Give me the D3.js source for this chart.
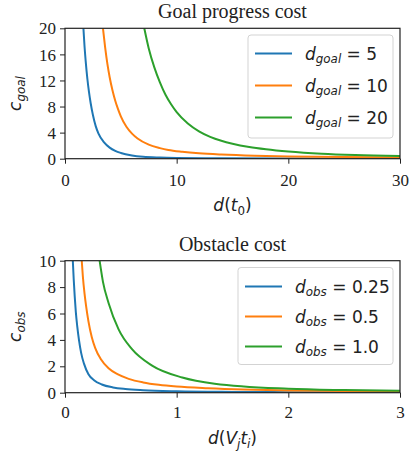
<!DOCTYPE html>
<html><head><meta charset="utf-8">
<script src="https://cdn.jsdelivr.net/npm/d3@7"></script>
<style>
html,body{margin:0;padding:0;background:#fff;}
svg{display:block;}
</style></head>
<body>
<svg id="chart" width="409" height="455"></svg>
<script>
// ---------- data ----------
const goalXTicks = [0, 10, 20, 30];
const goalYTicks = [0, 4, 8, 12, 16, 20];
const obsXTicks = [0, 1, 2, 3];
const obsYTicks = [0, 2, 4, 6, 8, 10];

const goalLegendValues = ["5", "10", "20"];
const obsLegendValues = ["0.25", "0.5", "1.0"];

// [d(t0), c_goal]
const goal5 = [[1.65,20],[1.75,17.2],[1.85,15.0],[2.0,12.3],[2.15,10.2],[2.3,8.5],[2.5,6.7],[2.75,5.0],[3.0,3.85],[3.5,2.5],[4.0,1.7],[4.5,1.2],[5.0,0.88],[6.0,0.5],[7.0,0.3],[8.5,0.18],[10,0.12],[14,0.06],[20,0.03],[30,0.01]];
const goal10 = [[3.4,20],[3.6,17.0],[3.8,14.5],[4.0,12.5],[4.25,10.5],[4.5,8.9],[4.75,7.6],[5.0,6.5],[5.5,4.9],[6.0,3.85],[6.5,3.1],[7.5,2.15],[8.5,1.62],[9.25,1.33],[10.5,1.05],[12,0.82],[14,0.63],[17,0.45],[20,0.35],[25,0.25],[30,0.2]];
const goal20 = [[7.1,20],[7.5,16.9],[8.0,14.0],[8.5,11.7],[9.0,9.8],[9.5,8.35],[10,7.15],[11,5.4],[12,4.2],[13,3.35],[14,2.75],[15,2.3],[16.5,1.8],[18,1.45],[20,1.1],[23,0.75],[26,0.55],[30,0.4]];

// [d(V_j t_i), c_obs]
const obs025 = [[0.07,10],[0.078,8.6],[0.087,7.3],[0.097,6.1],[0.11,5.0],[0.125,4.0],[0.145,3.0],[0.17,2.2],[0.21,1.4],[0.26,0.95],[0.33,0.62],[0.43,0.4],[0.54,0.28],[0.7,0.19],[1.0,0.11],[1.5,0.06],[2,0.04],[3,0.02]];
const obs05 = [[0.15,10],[0.16,8.8],[0.175,7.5],[0.19,6.5],[0.21,5.4],[0.24,4.2],[0.27,3.4],[0.32,2.55],[0.39,1.85],[0.47,1.4],[0.57,1.05],[0.7,0.78],[0.84,0.6],[1.0,0.47],[1.28,0.34],[1.6,0.24],[2.0,0.17],[2.5,0.12],[3.0,0.09]];
const obs10 = [[0.31,10],[0.34,8.4],[0.39,6.8],[0.48,4.8],[0.6,3.3],[0.78,2.05],[1.05,1.15],[1.34,0.68],[2,0.3],[2.5,0.2],[3,0.15]];

const colors = ["#1f77b4", "#ff7f0e", "#2ca02c"];

// ---------- drawing ----------
const svg = d3.select("#chart");
const SERIF = "'Liberation Serif','Times New Roman',serif";
const SANS = "'DejaVu Sans',sans-serif";

// rich text: segments [{t, it, sub}]
function rich(sel, segs, size) {
  let shifted = false;
  segs.forEach(s => {
    const ts = sel.append("tspan").text(s.t)
      .attr("font-style", s.it ? "italic" : "normal")
      .attr("font-size", s.sub ? size * 0.7 : size);
    if (s.sub && !shifted) { ts.attr("dy", size * 0.22); shifted = true; }
    else if (!s.sub && shifted) { ts.attr("dy", -size * 0.22); shifted = false; }
  });
}

function panel(cfg) {
  const g = svg.append("g");
  const x = d3.scaleLinear().domain(cfg.xDomain).range([cfg.left, cfg.right]);
  const y = d3.scaleLinear().domain(cfg.yDomain).range([cfg.bottom, cfg.top]);

  const clipId = "clip" + cfg.id;
  svg.append("clipPath").attr("id", clipId).append("rect")
    .attr("x", cfg.left).attr("y", cfg.top)
    .attr("width", cfg.right - cfg.left).attr("height", cfg.bottom - cfg.top);

  const line = d3.line().x(d => x(d[0])).y(d => y(d[1])).curve(d3.curveMonotoneX);
  cfg.series.forEach((s, i) => {
    g.append("path").datum(s).attr("d", line)
      .attr("fill", "none").attr("stroke", colors[i]).attr("stroke-width", 2)
      .attr("clip-path", `url(#${clipId})`);
  });

  // axes
  const xAxis = d3.axisBottom(x).tickValues(cfg.xTicks).tickSize(5).tickPadding(3).tickFormat(d3.format("d"));
  const yAxis = d3.axisLeft(y).tickValues(cfg.yTicks).tickSize(5).tickPadding(4).tickFormat(d3.format("d"));
  const gx = g.append("g").attr("transform", `translate(0,${cfg.bottom})`).call(xAxis);
  const gy = g.append("g").attr("transform", `translate(${cfg.left},0)`).call(yAxis);
  [gx, gy].forEach(a => {
    a.select(".domain").remove();
    a.selectAll(".tick line").attr("stroke", "#222").attr("stroke-width", 1);
    a.selectAll(".tick text").attr("font-family", SERIF).attr("font-size", 17).attr("fill", "#222");
  });
  gx.selectAll(".tick text").attr("dy", null).attr("y", cfg.xTickBaseline - cfg.bottom);
  gy.selectAll(".tick text").attr("dy", "0.33em");

  // frame
  g.append("rect").attr("x", cfg.left).attr("y", cfg.top)
    .attr("width", cfg.right - cfg.left).attr("height", cfg.bottom - cfg.top)
    .attr("fill", "none").attr("stroke", "#222").attr("stroke-width", 1.2);

  // title
  g.append("text").attr("x", (cfg.left + cfg.right) / 2).attr("y", cfg.titleY)
    .attr("text-anchor", "middle").attr("font-family", SERIF).attr("font-size", 20)
    .attr("fill", "#222").text(cfg.title);

  // x label
  const xl = g.append("text").attr("x", (cfg.left + cfg.right) / 2).attr("y", cfg.xLabelY)
    .attr("text-anchor", "middle").attr("font-family", SANS).attr("fill", "#222");
  rich(xl, cfg.xLabel, 17);

  // y label
  const yl = g.append("text")
    .attr("transform", `translate(${cfg.yLabelX},${(cfg.top + cfg.bottom) / 2}) rotate(-90)`)
    .attr("text-anchor", "middle").attr("font-family", SANS).attr("fill", "#222");
  rich(yl, cfg.yLabel, 17);

  // legend
  const L = cfg.legend;
  g.append("rect").attr("x", L.x).attr("y", L.y).attr("width", L.w).attr("height", L.h)
    .attr("rx", 3).attr("fill", "#fff").attr("fill-opacity", 0.85)
    .attr("stroke", "#d3d3d3").attr("stroke-width", 1);
  cfg.legendValues.forEach((v, i) => {
    const yy = L.firstY + i * L.step;
    g.append("line").attr("x1", L.x + 7).attr("x2", L.x + 44)
      .attr("y1", yy).attr("y2", yy).attr("stroke", colors[i]).attr("stroke-width", 2);
    const t = g.append("text").attr("x", L.x + 57).attr("y", yy + 6)
      .attr("font-family", SANS).attr("fill", "#222");
    rich(t, [{t: "d", it: true}, {t: cfg.legendSub, it: true, sub: true}, {t: " = " + v}], 17);
  });
}

panel({
  id: "goal", left: 65, right: 400, top: 28.3, bottom: 158.7,
  xDomain: [0, 30], yDomain: [0, 20], xTicks: goalXTicks, yTicks: goalYTicks,
  series: [goal5, goal10, goal20],
  title: "Goal progress cost", titleY: 18, xTickBaseline: 186, xLabelY: 211, yLabelX: 21,
  xLabel: [{t: "d", it: true}, {t: "("}, {t: "t", it: true}, {t: "0", sub: true}, {t: ")"}],
  yLabel: [{t: "c", it: true}, {t: "goal", it: true, sub: true}],
  legendValues: goalLegendValues, legendSub: "goal",
  legend: {x: 248, y: 35, w: 145, h: 103, firstY: 53.5, step: 32}
});

panel({
  id: "obs", left: 65, right: 400, top: 260.7, bottom: 392.7,
  xDomain: [0, 3], yDomain: [0, 10], xTicks: obsXTicks, yTicks: obsYTicks,
  series: [obs025, obs05, obs10],
  title: "Obstacle cost", titleY: 250.5, xTickBaseline: 418, xLabelY: 444, yLabelX: 21,
  xLabel: [{t: "d", it: true}, {t: "("}, {t: "V", it: true}, {t: "j", it: true, sub: true}, {t: "t", it: true}, {t: "i", it: true, sub: true}, {t: ")"}],
  yLabel: [{t: "c", it: true}, {t: "obs", it: true, sub: true}],
  legendValues: obsLegendValues, legendSub: "obs",
  legend: {x: 238, y: 267.5, w: 155, h: 97, firstY: 286.5, step: 30}
});
</script>
</body></html>
